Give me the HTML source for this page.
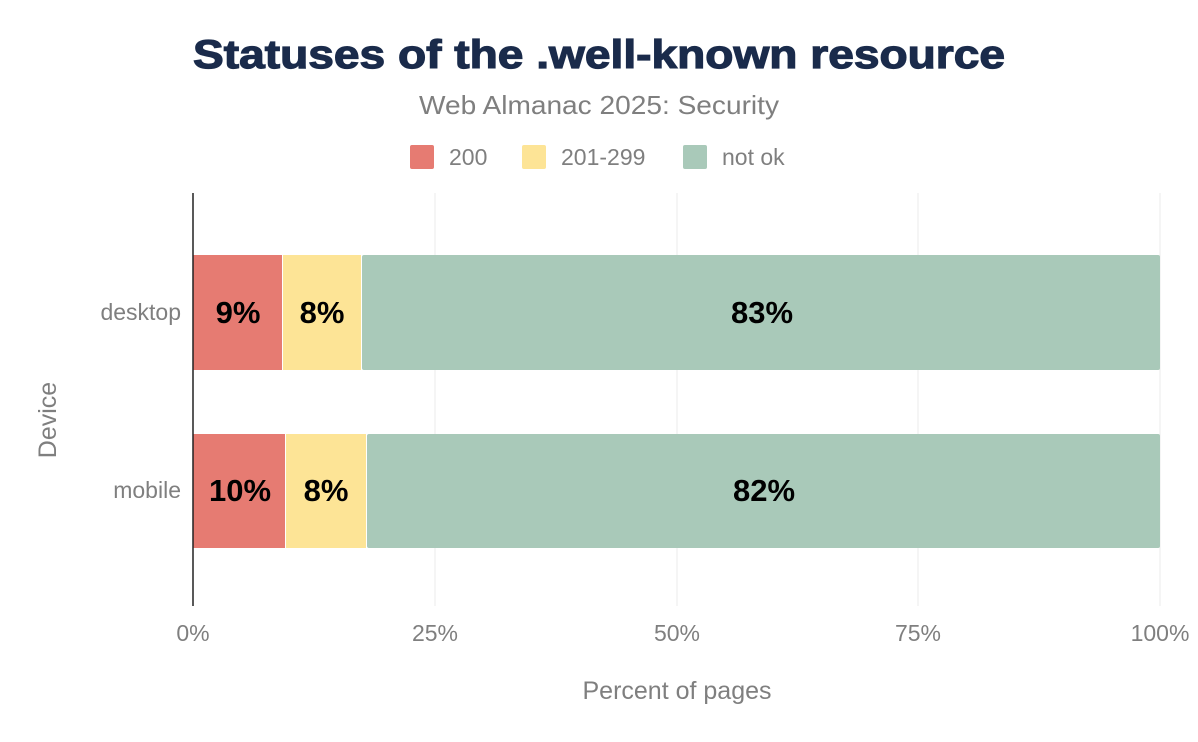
<!DOCTYPE html>
<html><head><style>body{margin:0;background:#fff}svg{display:block}</style></head><body>
<svg width="1198" height="742" xmlns="http://www.w3.org/2000/svg" font-family="Liberation Sans, Arial, sans-serif">
<rect width="1198" height="742" fill="#fff"/>
<text x="599" y="68" text-anchor="middle" font-size="40" font-weight="bold" fill="#1a2b4b" stroke="#1a2b4b" stroke-width="1.2" textLength="812" lengthAdjust="spacingAndGlyphs">Statuses of the .well-known resource</text>
<text x="599" y="114" text-anchor="middle" font-size="26" fill="#7f7f7f" textLength="360" lengthAdjust="spacingAndGlyphs">Web Almanac 2025: Security</text>
<rect x="410" y="145" width="24" height="24" rx="2" fill="#e67b72"/>
<text x="449" y="165" font-size="23" fill="#7f7f7f">200</text>
<rect x="522" y="145" width="24" height="24" rx="2" fill="#fde496"/>
<text x="561" y="165" font-size="23" fill="#7f7f7f">201-299</text>
<rect x="683" y="145" width="24" height="24" rx="2" fill="#a9c9b9"/>
<text x="722" y="165" font-size="23" fill="#7f7f7f">not ok</text>
<g stroke="#ebebeb" stroke-width="1">
<line x1="435" y1="193" x2="435" y2="606"/><line x1="677" y1="193" x2="677" y2="606"/>
<line x1="918" y1="193" x2="918" y2="606"/><line x1="1160" y1="193" x2="1160" y2="606"/>
</g>
<rect x="193" y="255" width="89" height="115" fill="#e67b72"/>
<rect x="283" y="255" width="78" height="115" fill="#fde496"/>
<rect x="362" y="255" width="798" height="115" rx="2" fill="#a9c9b9"/>
<rect x="193" y="434" width="92" height="114" fill="#e67b72"/>
<rect x="286" y="434" width="80" height="114" fill="#fde496"/>
<rect x="367" y="434" width="793" height="114" rx="2" fill="#a9c9b9"/>
<line x1="193" y1="193" x2="193" y2="606" stroke="#222" stroke-width="1.5"/>
<g font-size="31" font-weight="bold" fill="#000" text-anchor="middle">
<text x="238" y="323">9%</text><text x="322" y="323">8%</text><text x="762" y="323">83%</text>
<text x="240" y="501">10%</text><text x="326" y="501">8%</text><text x="764" y="501">82%</text>
</g>
<g font-size="23" fill="#7f7f7f">
<text x="181" y="320" text-anchor="end">desktop</text>
<text x="181" y="498" text-anchor="end">mobile</text>
<text x="193" y="641" text-anchor="middle">0%</text>
<text x="435" y="641" text-anchor="middle">25%</text>
<text x="677" y="641" text-anchor="middle">50%</text>
<text x="918" y="641" text-anchor="middle">75%</text>
<text x="1160" y="641" text-anchor="middle">100%</text>
<text x="677" y="699" text-anchor="middle" font-size="25">Percent of pages</text>
<text transform="translate(56,420) rotate(-90)" text-anchor="middle" font-size="25">Device</text>
</g>
</svg>
</body></html>
